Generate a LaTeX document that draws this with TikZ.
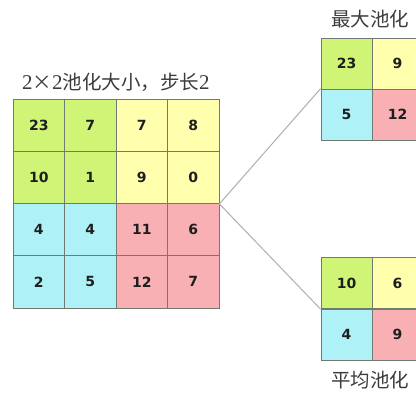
\documentclass[tikz,border=0pt]{standalone}
\usepackage{fontspec}
\newfontfamily\cjk{Noto Sans CJK SC}
\newfontfamily\numfont{DejaVu Sans}
\newfontfamily\serifdig{Liberation Serif}
\definecolor{gr}{RGB}{208,244,118}
\definecolor{ye}{RGB}{255,255,174}
\definecolor{cy}{RGB}{174,242,248}
\definecolor{pk}{RGB}{248,176,180}
\definecolor{gridc}{RGB}{112,122,112}
\definecolor{numc}{RGB}{30,30,30}
\definecolor{txtc}{RGB}{60,60,60}
\definecolor{connc}{RGB}{175,175,175}
\begin{document}
\begin{tikzpicture}[x=1pt,y=-1pt,
  cell/.style={draw=gridc, line width=0.8pt, inner sep=0pt, text=numc,
    font=\numfont\bfseries\fontsize{14}{14}\selectfont},
  bigcell/.style={cell, minimum width=51.5pt, minimum height=52.25pt},
  smallcell/.style={cell, minimum width=51pt, minimum height=51pt},
  title/.style={text=txtc, inner sep=0pt, font=\cjk\fontsize{19.5}{19.5}\selectfont},
  conn/.style={draw=connc, line width=1pt}]
\useasboundingbox (0,0) rectangle (416,392);
\clip (0,0) rectangle (416,392);
\fill[white] (0,0) rectangle (416,392);
% big grid
\foreach \row [count=\i] in {{23/gr,7/gr,7/ye,8/ye},{10/gr,1/gr,9/ye,0/ye},{4/cy,4/cy,11/pk,6/pk},{2/cy,5/cy,12/pk,7/pk}}{
  \foreach \v/\c [count=\j] in \row {
    \node[bigcell, fill=\c] (b-\i-\j) at ({13+51.5*(\j-0.5)},{99+52.25*(\i-0.5)}) {\v};
  }
}
% max pooling
\foreach \row [count=\i] in {{23/gr,9/ye},{5/cy,12/pk}}{
  \foreach \v/\c [count=\j] in \row {
    \node[smallcell, fill=\c] (m-\i-\j) at ({321+51*(\j-0.5)},{38+51*(\i-0.5)}) {\v};
  }
}
% average pooling
\foreach \row [count=\i] in {{10/gr,6/ye},{4/cy,9/pk}}{
  \foreach \v/\c [count=\j] in \row {
    \node[smallcell, fill=\c] (a-\i-\j) at ({321+51*(\j-0.5)},{257.5+51.5*(\i-0.5)}) {\v};
  }
}
\draw[conn] (b-2-4.south east) -- (m-2-1.north west);
\draw[conn] (b-2-4.south east) -- (a-1-1.south west);
\node[title] (t1) at (116,82) {{\serifdig\fontsize{21}{21}\selectfont 2}×{\serifdig\fontsize{21}{21}\selectfont 2}池化大小，步长{\serifdig\fontsize{21}{21}\selectfont 2}};
\node[title] (t2) at (370,19) {最大池化};
\node[title] (t3) at (370,380) {平均池化};
\end{tikzpicture}
\end{document}
